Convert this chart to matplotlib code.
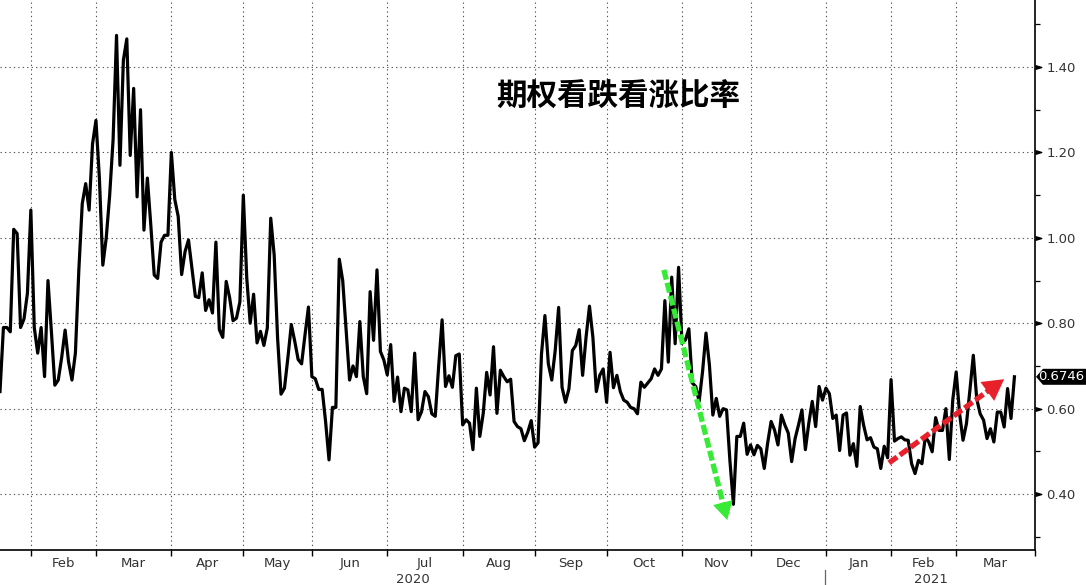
import numpy as np
import pandas as pd
import matplotlib
matplotlib.use("Agg")
import matplotlib.pyplot as plt
import matplotlib.transforms as mtransforms
from matplotlib.patches import Polygon, FancyArrowPatch

# ---------------- data ----------------
title = "期权看跌看涨比率"
start_date = "2020-01-21"
end_axis_date = "2021-04-01"
market_holidays = ["2020-01-20", "2020-02-17", "2020-04-10", "2020-05-25", "2020-07-03",
                   "2020-09-07", "2020-11-26", "2020-12-25", "2021-01-01", "2021-01-18",
                   "2021-02-15", "2021-04-02"]

jan20 = [0.64, 0.79, 0.79, 0.78, 1.02, 1.01, 0.79, 0.81, 0.87]
feb20 = [1.065, 0.79, 0.73, 0.79, 0.675, 0.90, 0.78, 0.655, 0.667, 0.72, 0.784, 0.71, 0.667,
         0.73, 0.924, 1.08, 1.127, 1.065, 1.22]
mar20 = [1.275, 1.14, 0.936, 1.00, 1.10, 1.23, 1.474, 1.17, 1.416, 1.466, 1.193, 1.35, 1.096,
         1.30, 1.018, 1.14, 1.03, 0.913, 0.905, 0.99, 1.006, 1.006]
apr20 = [1.20, 1.09, 1.05, 0.914, 0.968, 0.995, 0.93, 0.863, 0.86, 0.918, 0.83, 0.855, 0.824,
         0.99, 0.785, 0.767, 0.898, 0.86, 0.806, 0.812, 0.85]
may20 = [1.10, 0.906, 0.80, 0.868, 0.754, 0.781, 0.748, 0.789, 1.046, 0.96, 0.765, 0.634, 0.648,
         0.719, 0.797, 0.758, 0.715, 0.705, 0.773, 0.838]
jun20 = [0.675, 0.67, 0.645, 0.645, 0.57, 0.48, 0.603, 0.603, 0.95, 0.90, 0.785, 0.667, 0.70,
         0.675, 0.804, 0.675, 0.635, 0.874, 0.76, 0.925, 0.734, 0.714]
jul20 = [0.679, 0.75, 0.617, 0.674, 0.593, 0.648, 0.644, 0.593, 0.73, 0.574, 0.593, 0.64, 0.628,
         0.588, 0.582, 0.70, 0.808, 0.652, 0.677, 0.65, 0.724, 0.728]
aug20 = [0.562, 0.574, 0.566, 0.504, 0.648, 0.535, 0.589, 0.685, 0.632, 0.745, 0.589, 0.69, 0.675,
         0.663, 0.669, 0.57, 0.558, 0.553, 0.525, 0.545, 0.572]
sep20 = [0.51, 0.52, 0.728, 0.818, 0.705, 0.667, 0.736, 0.837, 0.65, 0.615, 0.646, 0.736, 0.748,
         0.785, 0.678, 0.767, 0.84, 0.767, 0.64, 0.678, 0.693]
oct20 = [0.615, 0.732, 0.649, 0.678, 0.64, 0.62, 0.615, 0.603, 0.60, 0.588, 0.662, 0.65, 0.66,
         0.67, 0.693, 0.678, 0.693, 0.853, 0.709, 0.908, 0.752, 0.931]
nov20 = [0.753, 0.761, 0.787, 0.66, 0.652, 0.617, 0.687, 0.777, 0.702, 0.585, 0.624, 0.582, 0.60,
         0.597, 0.476, 0.376, 0.535, 0.535, 0.566, 0.493]
dec20 = [0.515, 0.492, 0.514, 0.506, 0.46, 0.52, 0.57, 0.55, 0.515, 0.585, 0.562, 0.543, 0.476,
         0.53, 0.562, 0.597, 0.504, 0.566, 0.617, 0.558, 0.652, 0.62]
jan21 = [0.648, 0.635, 0.577, 0.585, 0.502, 0.585, 0.59, 0.491, 0.518, 0.465, 0.605, 0.561, 0.527,
         0.532, 0.51, 0.506, 0.46, 0.512, 0.485]
feb21 = [0.668, 0.524, 0.53, 0.534, 0.527, 0.526, 0.471, 0.448, 0.479, 0.471, 0.534, 0.522, 0.499,
         0.579, 0.549, 0.549, 0.60, 0.481, 0.62]
mar21 = [0.686, 0.588, 0.526, 0.565, 0.643, 0.725, 0.623, 0.588, 0.573, 0.53, 0.553, 0.522, 0.592,
         0.592, 0.557, 0.647, 0.577, 0.6746]

put_call_ratio = (jan20 + feb20 + mar20 + apr20 + may20 + jun20 + jul20 + aug20 + sep20 +
                  oct20 + nov20 + dec20 + jan21 + feb21 + mar21)

month_labels = ["Feb", "Mar", "Apr", "May", "Jun", "Jul", "Aug", "Sep", "Oct", "Nov", "Dec",
                "Jan", "Feb", "Mar"]
year_labels = ["2020", "2021"]
y_major = [0.40, 0.60, 0.80, 1.00, 1.20, 1.40]
y_minor = [0.30, 0.50, 0.70, 0.90, 1.10, 1.30, 1.50]
y_limits = (0.269, 1.557)

# annotation arrows: (trading-day index, ratio) start -> tip
green_arrow = ((193.7, 0.925), (212.2, 0.339))
red_arrow = ((259.4, 0.473), (293.0, 0.669))

# ---------------- calendar ----------------
cal = pd.offsets.CustomBusinessDay(holidays=market_holidays)
all_days = pd.date_range(start_date, end_axis_date, freq=cal)
x = np.arange(len(put_call_ratio))
month_starts = [i for i in range(1, len(all_days)) if all_days[i].month != all_days[i - 1].month]
label_pos = [(a + b) / 2 for a, b in zip(month_starts[:-1], month_starts[1:])]
year_start = [i for i in month_starts if all_days[i].month == 1][0]
year_pos = [year_start / 2, (year_start + month_starts[-1]) / 2]

# ---------------- figure ----------------
fig = plt.figure(figsize=(10.86, 5.85), dpi=100, facecolor="white")
ax = fig.add_axes([0, 35 / 585, 1035 / 1086, 550 / 585])

ax.plot(x, put_call_ratio, color="black", lw=2.3, zorder=3, solid_joinstyle="round")


def dashed_arrow(start, tip, color, head_len, head_w):
    lw = 3.8
    shaft = FancyArrowPatch(posA=start, posB=tip, arrowstyle="-",
                            lw=lw, color=color, linestyle=(0, (7.2 / lw, 2.4 / lw)),
                            shrinkA=0, shrinkB=head_len * 20 - 2, zorder=4, capstyle="butt")
    ax.add_patch(shaft)
    head = FancyArrowPatch(posA=start, posB=tip,
                           arrowstyle=f"-|>,head_length={head_len},head_width={head_w}",
                           mutation_scale=20, lw=0, color=color, shrinkA=0, shrinkB=0, zorder=4)
    ax.add_patch(head)


dashed_arrow(*green_arrow, "#36ea36", 0.65, 0.36)
dashed_arrow(*red_arrow, "#e8202a", 0.75, 0.42)

ax.set_xlim(0, month_starts[-1])
ax.set_ylim(*y_limits)

# x axis
ax.set_xticks(month_starts)
ax.set_xticklabels([])
ax.set_xticks(label_pos, minor=True)
ax.set_xticklabels(month_labels, minor=True)
ax.tick_params(axis="x", which="major", direction="out", length=4, width=1, color="black")
ax.tick_params(axis="x", which="minor", length=0, pad=5, labelsize=9.5, labelcolor="#333333")

# y axis on the right
ax.yaxis.tick_right()
ax.set_yticks(y_major)
ax.set_yticklabels([f"{v:.2f}" for v in y_major])
ax.set_yticks(y_minor, minor=True)
ax.tick_params(axis="y", which="major", length=0, pad=8, labelsize=9.5, labelcolor="#333333",
               right=True, left=False, labelright=True, labelleft=False)
ax.tick_params(axis="y", which="minor", direction="out", length=3.5, width=0.9, color="black",
               right=True, left=False)
tri = [(0, -0.6), (2, 0), (0, 0.6)]
ax.plot(np.ones(len(y_major)), y_major, ls="none", marker=tri, ms=9, color="black",
        transform=ax.get_yaxis_transform(), clip_on=False, zorder=5)

ax.grid(True, which="major", axis="both", color="#555555", lw=0.8, linestyle=(0, (1.2, 2.8)))
ax.set_axisbelow(True)

for s in ["left", "top"]:
    ax.spines[s].set_visible(False)
for s in ["right", "bottom"]:
    ax.spines[s].set_color("black")
    ax.spines[s].set_linewidth(1.2)

# year labels & separator
for pos, lab in zip(year_pos, year_labels):
    ax.text(pos, -0.053, lab, transform=ax.get_xaxis_transform(), ha="center", va="center",
            fontsize=9.5, color="#333333")
ax.plot([year_start - 0.3] * 2, [-0.036, -0.07], transform=ax.get_xaxis_transform(),
        clip_on=False, color="#666666", lw=0.9)

# title
ax.text(0.597, 0.824, title, transform=ax.transAxes, ha="center", va="center",
        fontsize=22, fontweight="black", family=["Noto Sans CJK SC", "DejaVu Sans"], color="black")

# last value tag
last = put_call_ratio[-1]
tag_trans = fig.dpi_scale_trans + mtransforms.ScaledTranslation(1.0, last, ax.get_yaxis_transform())
tag = Polygon([(0.01, 0), (0.08, 0.08), (0.53, 0.08), (0.53, -0.08), (0.08, -0.08)],
              closed=True, transform=tag_trans, facecolor="black", edgecolor="none")
fig.add_artist(tag)
fig.text(0.265, 0.0, f"{last:.4f}", transform=tag_trans, ha="center", va="center",
         color="white", fontsize=9.5)

fig.savefig("out.png", dpi=100, facecolor="white")
